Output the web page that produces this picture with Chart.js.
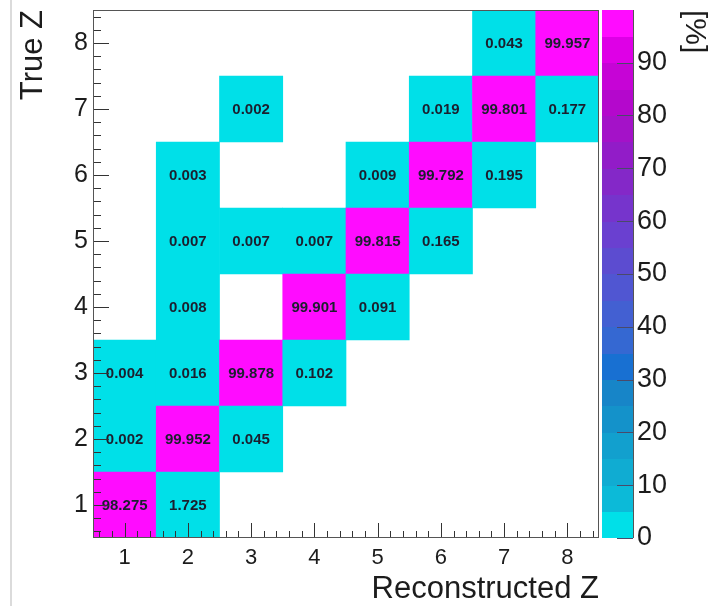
<!DOCTYPE html>
<html>
<head>
<meta charset="utf-8">
<title>Reconstructed Z vs True Z</title>
<script src="https://cdn.jsdelivr.net/npm/chart.js@4.4.1/dist/chart.umd.min.js"></script>
<style>
  html, body { margin: 0; padding: 0; background: #ffffff; }
  #wrap { width: 711px; height: 606px; position: relative; }
</style>
</head>
<body>
<div id="wrap">
  <canvas id="matrixChart" width="711" height="606"></canvas>
</div>
<script>
// Bin labels on both axes
const recoZ = ['1', '2', '3', '4', '5', '6', '7', '8'];
const trueZ = [1, 2, 3, 4, 5, 6, 7, 8];

// Percentage of each true Z ending up in each reconstructed Z (null = empty bin)
const trueZ1 = [98.275, 1.725, null, null, null, null, null, null];
const trueZ2 = [0.002, 99.952, 0.045, null, null, null, null, null];
const trueZ3 = [0.004, 0.016, 99.878, 0.102, null, null, null, null];
const trueZ4 = [null, 0.008, null, 99.901, 0.091, null, null, null];
const trueZ5 = [null, 0.007, 0.007, 0.007, 99.815, 0.165, null, null];
const trueZ6 = [null, 0.003, null, null, 0.009, 99.792, 0.195, null];
const trueZ7 = [null, null, 0.002, null, null, 0.019, 99.801, 0.177];
const trueZ8 = [null, null, null, null, null, null, 0.043, 99.957];
const rows = [trueZ1, trueZ2, trueZ3, trueZ4, trueZ5, trueZ6, trueZ7, trueZ8];

// Colour bar labels
const zTicks = [0, 10, 20, 30, 40, 50, 60, 70, 80, 90];

// 20 contour colours, low -> high
const palette = [
  '#00e0e8', '#0cbad8', '#10acd2', '#12a0ce', '#1492ca',
  '#1785c8', '#1870d2', '#3568d2', '#4360d2', '#5056d2',
  '#5c4cd0', '#6a40d0', '#7634cc', '#8428c8', '#921cc8',
  '#a412c8', '#b408cc', '#c604d6', '#de00e6', '#ff0cff'
];

const zMax = Math.max(...rows.flat().filter(v => v !== null));
const FONT = "'Liberation Sans', Arial, Helvetica, sans-serif";
const INK = '#1c1c1c';

function colourFor(v) {
  const idx = Math.min(palette.length - 1, Math.floor(v / zMax * palette.length));
  return palette[idx];
}

// keep the axes from pushing the plot area around
function fixedSize(prop, size) {
  return s => {
    s[prop] = size;
    s.paddingTop = 0;
    s.paddingBottom = 0;
    s.paddingLeft = 0;
    s.paddingRight = 0;
  };
}

// one floating-bar dataset per true Z row, each bar spans one bin
const datasets = rows.map((row, i) => {
  const t = trueZ[i];
  return {
    label: 'True Z ' + t,
    data: row.map(v => (v === null ? null : [t - 0.5, t + 0.5])),
    values: row,
    backgroundColor: row.map(v => (v === null ? 'rgba(0,0,0,0)' : colourFor(v))),
    borderWidth: 0,
    barPercentage: 1,
    categoryPercentage: 1,
    grouped: false
  };
});

// white page with the thin grey margin line on the left
const pagePlugin = {
  id: 'page',
  beforeDraw(chart) {
    const ctx = chart.ctx;
    ctx.save();
    ctx.fillStyle = '#ffffff';
    ctx.fillRect(0, 0, chart.width, chart.height);
    ctx.strokeStyle = '#cfcfcf';
    ctx.lineWidth = 1.5;
    ctx.beginPath();
    ctx.moveTo(11, 0);
    ctx.lineTo(11, chart.height);
    ctx.stroke();
    ctx.restore();
  }
};

// numbers printed in every filled bin
const cellTextPlugin = {
  id: 'cellText',
  afterDatasetsDraw(chart) {
    const ctx = chart.ctx;
    ctx.save();
    ctx.font = 'bold 15px ' + FONT;
    ctx.fillStyle = '#1b1f2e';
    ctx.textAlign = 'center';
    ctx.textBaseline = 'middle';
    chart.data.datasets.forEach((ds, di) => {
      const meta = chart.getDatasetMeta(di);
      meta.data.forEach((bar, i) => {
        const v = ds.values[i];
        if (v === null) return;
        const c = bar.getCenterPoint();
        ctx.fillText(v.toFixed(3), c.x, c.y + 1);
      });
    });
    ctx.restore();
  }
};

// frame, inward ticks and the colour bar
const axesPlugin = {
  id: 'rootAxes',
  afterDraw(chart) {
    const ctx = chart.ctx;
    const area = chart.chartArea;
    const x = chart.scales.x;
    const y = chart.scales.y;
    const z = chart.scales.z;
    ctx.save();
    ctx.strokeStyle = '#333333';
    ctx.lineWidth = 1;

    // ticks every 0.2 of a bin, long ones on the bin centres
    ctx.beginPath();
    for (let k = 6; k <= 84; k += 2) {
      const v = k / 10;
      const major = k % 10 === 0;
      const px = Math.round(x.getPixelForValue(v - 1)) + 0.5;
      ctx.moveTo(px, area.bottom);
      ctx.lineTo(px, area.bottom - (major ? 15 : 7));
      const py = Math.round(y.getPixelForValue(v)) + 0.5;
      ctx.moveTo(area.left, py);
      ctx.lineTo(area.left + (major ? 16 : 8), py);
    }
    ctx.stroke();

    // plot frame
    ctx.strokeStyle = '#555555';
    ctx.strokeRect(Math.round(area.left) + 0.5, Math.round(area.top) + 0.5,
      Math.round(area.right - area.left) - 1, Math.round(area.bottom - area.top) - 1);

    // colour bar bands
    const bx0 = 602, bx1 = 633;
    for (let k = 0; k < palette.length; k++) {
      const yLo = z.getPixelForValue(k * zMax / palette.length);
      const yHi = z.getPixelForValue((k + 1) * zMax / palette.length);
      ctx.fillStyle = palette[k];
      ctx.fillRect(bx0, Math.floor(yHi), bx1 - bx0, Math.ceil(yLo) - Math.floor(yHi));
    }
    ctx.strokeStyle = '#4a4a6a';
    ctx.beginPath();
    zTicks.forEach(t => {
      const py = Math.round(z.getPixelForValue(t)) + 0.5;
      ctx.moveTo(bx1, py);
      ctx.lineTo(bx1 - 16, py);
    });
    ctx.stroke();
    ctx.strokeStyle = '#555555';
    ctx.beginPath();
    ctx.moveTo(bx1 + 0.5, area.top);
    ctx.lineTo(bx1 + 0.5, area.bottom);
    ctx.stroke();
    ctx.restore();
  }
};

new Chart(document.getElementById('matrixChart'), {
  type: 'bar',
  data: { labels: recoZ, datasets },
  options: {
    responsive: false,
    animation: false,
    events: [],
    layout: { padding: { left: 11, top: 10, right: 0, bottom: 0 } },
    plugins: {
      legend: { display: false },
      tooltip: { enabled: false }
    },
    scales: {
      x: {
        type: 'category',
        offset: true,
        grid: { display: false, drawTicks: false },
        border: { display: false },
        ticks: { color: INK, padding: 7, maxRotation: 0, font: { family: FONT, size: 22 } },
        title: {
          display: true, text: 'Reconstructed Z', align: 'end', color: INK,
          padding: { top: 0, bottom: 1 }, font: { family: FONT, size: 31, lineHeight: 1 }
        },
        afterFit: fixedSize('height', 68)
      },
      y: {
        type: 'linear',
        min: 0.5,
        max: 8.5,
        grid: { display: false, drawTicks: false },
        border: { display: false },
        afterBuildTicks: s => { s.ticks = trueZ.map(v => ({ value: v })); },
        ticks: { color: INK, padding: 5, font: { family: FONT, size: 25 } },
        title: {
          display: true, text: 'True Z', align: 'end', color: INK,
          padding: { top: 4, bottom: 0 }, font: { family: FONT, size: 31, lineHeight: 1.2 }
        },
        afterFit: fixedSize('width', 82)
      },
      z: {
        type: 'linear',
        position: 'right',
        min: 0,
        max: zMax,
        grid: { display: false, drawTicks: false },
        border: { display: false },
        afterBuildTicks: s => { s.ticks = zTicks.map(v => ({ value: v })); },
        ticks: { color: INK, padding: 38, font: { family: FONT, size: 27 } },
        title: {
          display: true, text: '[%]', align: 'end', color: INK,
          padding: 0, font: { family: FONT, size: 30, lineHeight: 1.1 }
        },
        afterFit: fixedSize('width', 112)
      }
    }
  },
  plugins: [pagePlugin, cellTextPlugin, axesPlugin]
});
</script>
</body>
</html>
